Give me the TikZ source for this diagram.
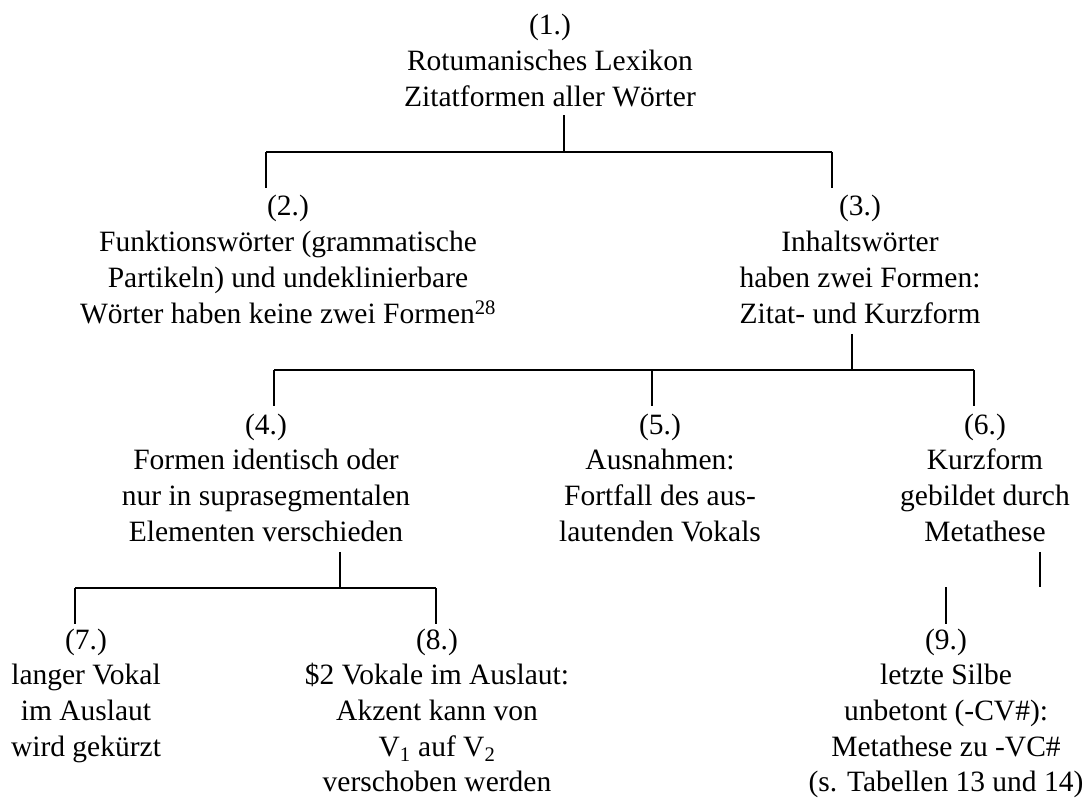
\documentclass[tikz,border=0pt]{standalone}
\usepackage{fontspec}
\setmainfont{Liberation Serif}
\usetikzlibrary{calc}
\begin{document}
\begin{tikzpicture}[x=1pt,y=-1pt,
  box/.style={inner sep=0pt,outer sep=0pt,anchor=base,
    font=\fontsize{29.5}{35.7}\selectfont},
  conn/.style={line width=2.7pt,line cap=butt,line join=miter},
  down/.style={conn,shorten >=3pt}]
\useasboundingbox (0,0) rectangle (1089,799);
\fill[white] (0,0) rectangle (1089,799);

% tree nodes: each placed on the baseline of its first line
\newcommand{\lines}[1]{\begin{tabular}[t]{@{}c@{}}#1\end{tabular}}
\node[box] (n1) at (550,35)  {\lines{(1.)\\Rotumanisches Lexikon\\Zitatformen aller Wörter}};
\node[box] (n2) at (288,216) {\lines{(2.)\\Funktionswörter (grammatische\\Partikeln) und undeklinierbare\\Wörter haben keine zwei Formen\textsuperscript{28}}};
\node[box] (n3) at (860,216) {\lines{(3.)\\Inhaltswörter\\haben zwei Formen:\\Zitat- und Kurzform}};
\node[box] (n4) at (266,434) {\lines{(4.)\\Formen identisch oder\\nur in suprasegmentalen\\Elementen verschieden}};
\node[box] (n5) at (660,434) {\lines{(5.)\\Ausnahmen:\\Fortfall des aus-\\lautenden Vokals}};
\node[box] (n6) at (985,434) {\lines{(6.)\\Kurzform\\gebildet durch\\Metathese}};
\node[box] (n7) at (86,649)  {\lines{(7.)\\langer Vokal\\im Auslaut\\wird gekürzt}};
\node[box] (n8) at (437,649) {\lines{(8.)\\\$2 Vokale im Auslaut:\\Akzent kann von\\V\textsubscript{1} auf V\textsubscript{2}\\verschoben werden}};
\node[box] (n9) at (946,649) {\lines{(9.)\\letzte Silbe\\unbetont (-CV\#):\\Metathese zu -VC\#\\(s. Tabellen 13 und 14)}};

% junction points of the brackets
\coordinate (j1) at (564,152);
\coordinate (l1) at (266,152);
\coordinate (r1) at (832,152);
\coordinate (j3) at (852,370);
\coordinate (l3) at (274,370);
\coordinate (m3) at (652,370);
\coordinate (r3) at (974,370);
\coordinate (j4) at (340,588);
\coordinate (l4) at (75,588);
\coordinate (r4) at (436,588);
\coordinate (k6) at (1040,587);
\coordinate (k9) at (946,587);

% (1.) -> (2.), (3.)
\draw[conn] (n1.south -| j1) ++(0,-2) -- (j1);
\draw[conn] (l1) -- (r1);
\draw[down] (l1) -- (n2.north -| l1);
\draw[down] (r1) -- (n3.north -| r1);

% (3.) -> (4.), (5.), (6.)
\draw[conn] (n3.south -| j3) -- (j3);
\draw[conn] (l3) -- (r3);
\draw[down] (l3) -- (n4.north -| l3);
\draw[down] (m3) -- (n5.north -| m3);
\draw[down] (r3) -- (n6.north -| r3);

% (4.) -> (7.), (8.)
\draw[conn] (n4.south -| j4) -- (j4);
\draw[conn] (l4) -- (r4);
\draw[conn] (l4) -- (n7.north -| l4);
\draw[conn] (r4) -- (n8.north -| r4);

% (6.) -> (9.)
\draw[conn,line width=2.2pt] (n6.south -| k6) -- (k6);
\draw[conn,line width=2.2pt] (k9) -- (n9.north -| k9);
\end{tikzpicture}
\end{document}
